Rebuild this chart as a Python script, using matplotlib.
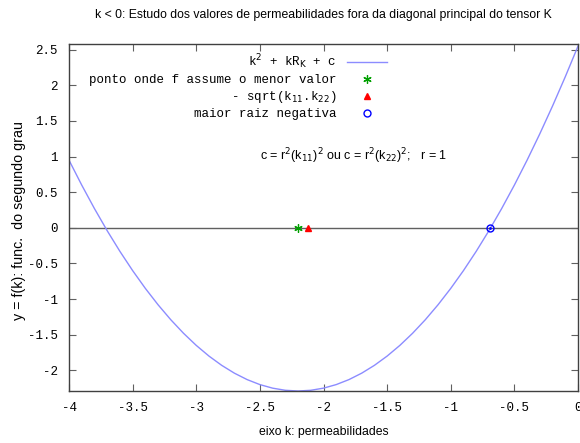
import matplotlib
matplotlib.use("Agg")
from matplotlib import pyplot as plt

ks = [-4.0, -3.9, -3.8, -3.7, -3.6, -3.5, -3.4, -3.3, -3.2, -3.1,
      -3.0, -2.9, -2.8, -2.7, -2.6, -2.5, -2.4, -2.3, -2.2, -2.1,
      -2.0, -1.9, -1.8, -1.7, -1.6, -1.5, -1.4, -1.3, -1.2, -1.1,
      -1.0, -0.9, -0.8, -0.7, -0.6, -0.5, -0.4, -0.3, -0.2, -0.1, 0.0]
fs = [0.95, 0.60, 0.27, -0.04, -0.33, -0.60, -0.85, -1.08, -1.29, -1.48,
      -1.65, -1.80, -1.93, -2.04, -2.13, -2.20, -2.25, -2.28, -2.29, -2.28,
      -2.25, -2.20, -2.13, -2.04, -1.93, -1.80, -1.65, -1.48, -1.29, -1.08,
      -0.85, -0.60, -0.33, -0.04, 0.27, 0.60, 0.95, 1.32, 1.71, 2.12, 2.55]

k_min = [-2.2]
f_zero = [0.0]
k_sqrt = [-2.12]
k_raiz = [-0.69]

x_ticks = [-4, -3.5, -3, -2.5, -2, -1.5, -1, -0.5, 0]
x_labels = ["-4", "-3.5", "-3", "-2.5", "-2", "-1.5", "-1", "-0.5", "0"]
y_ticks = [-2, -1.5, -1, -0.5, 0, 0.5, 1, 1.5, 2, 2.5]
y_labels = ["-2", "-1.5", "-1", "-0.5", "0", "0.5", "1", "1.5", "2", "2.5"]

mono = "Liberation Mono"
sans = ["Liberation Sans", "DejaVu Sans"]

fig = plt.figure(figsize=(5.8, 4.43), dpi=100)
ax = fig.add_axes([69 / 580, 1 - 391 / 443, (578 - 69) / 580, (391 - 44) / 443])

ax.axhline(0, color="#606060", lw=1.0, zorder=1)
ax.plot(ks, fs, color="#8c8cff", lw=1.0, label=r"k$^2$ + kR$_{\rm K}$ + c", zorder=2)
ax.plot(k_min, f_zero, linestyle="none", marker=(6, 2, 0), markersize=6,
        markeredgewidth=0.9, color="#00a000", label="ponto onde f assume o menor valor", zorder=3)
ax.plot(k_sqrt, f_zero, linestyle="none", marker="^", markersize=5,
        color="red", label=r"- sqrt(k$_{11}$.k$_{22}$)", zorder=3)
ax.plot(k_raiz, f_zero, linestyle="none", marker="o", markersize=5,
        markerfacecolor="none", markeredgecolor="blue", markeredgewidth=1.0,
        label="maior raiz negativa", zorder=3)
ax.plot(k_raiz, f_zero, linestyle="none", marker=".", markersize=2,
        color="blue", zorder=3)

ax.set_xlim(-4, 0)
ax.set_ylim(-2.29, 2.58)
ax.set_xticks(x_ticks)
ax.set_xticklabels(x_labels, fontfamily=mono, fontsize=9)
ax.set_yticks(y_ticks)
ax.set_yticklabels(y_labels, fontfamily=mono, fontsize=9)
ax.tick_params(direction="in", length=5, width=0.8, color="#606060",
               top=True, right=True, pad=8)
for s in ax.spines.values():
    s.set_color("#404040")
    s.set_linewidth(1.0)

ax.text(-2.5, 1.0, r"c = r$^2$(k$_{11}$)$^2$ ou c = r$^2$(k$_{22}$)$^2$;   r = 1",
        fontfamily=sans, fontsize=9, va="center", ha="left")

leg = ax.legend(loc="upper right", bbox_to_anchor=(0.64, 1.0), frameon=False,
                markerfirst=False, prop={"family": mono, "size": 9},
                handlelength=3.2, handletextpad=0.8, labelspacing=0.25,
                borderaxespad=0.25)
for t in leg.get_texts():
    t.set_ha("right")

fig.text((69 + 578) / 2 / 580, 1 - 15 / 443,
         "k < 0: Estudo dos valores de permeabilidades fora da diagonal principal do tensor K",
         ha="center", va="center", fontfamily=sans, fontsize=8.8)
fig.text((69 + 578) / 2 / 580, 1 - 432 / 443, "eixo k: permeabilidades",
         ha="center", va="center", fontfamily=sans, fontsize=8.8)
fig.text(19 / 580, 1 - 221 / 443, "y = f(k): func.  do segundo grau", rotation=90,
         ha="center", va="center", fontfamily=sans, fontsize=10.3)

fig.savefig("out.png", dpi=100)
